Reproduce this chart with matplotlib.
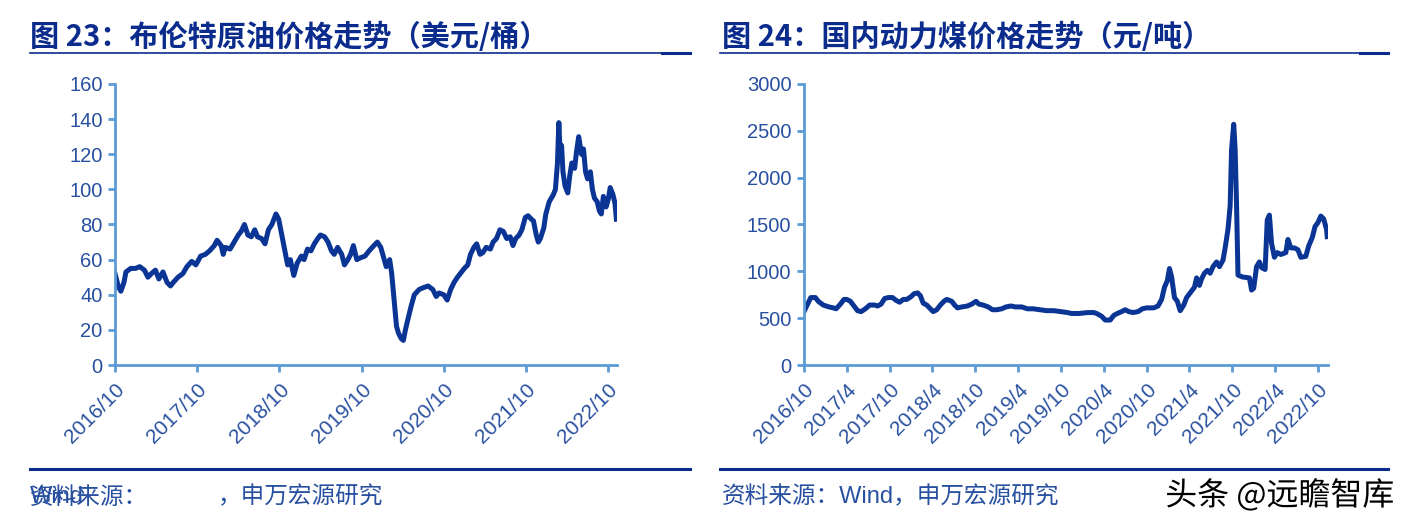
import matplotlib
matplotlib.use("Agg")
import matplotlib.pyplot as plt
import matplotlib.patheffects as pe
from matplotlib.lines import Line2D

plt.rcParams['font.family'] = ['Liberation Sans', 'Noto Sans CJK SC', 'DejaVu Sans']

# months since 2016/10
brent_month = [0, 0.46, 0.85, 1.3, 1.6, 2.3, 3.0, 3.6, 4.3, 4.8, 5.3, 5.9, 6.4, 7.0, 7.6, 8.1, 8.5, 9.2,
               9.9, 10.5, 11.2, 11.8, 12.5, 13.2, 13.8, 14.5, 14.9, 15.5, 15.8, 16.1, 16.8, 17.4, 18.0,
               18.4, 18.9, 19.4, 19.9, 20.4, 20.8, 21.4, 21.9, 22.4, 22.9, 23.5, 23.9, 24.3, 24.8, 25.2,
               25.6, 26.1, 26.6, 27.2, 27.6, 28.1, 28.6, 29.1, 29.6, 30.0, 30.6, 31.1, 31.6, 32.0, 32.5,
               33.1, 33.5, 34.0, 34.4, 34.8, 35.3, 35.8, 36.5, 37.1, 37.8, 38.3, 38.8, 39.3, 39.6, 40.1,
               40.4, 40.8, 41.1, 41.4, 41.8, 42.1, 42.4, 42.7, 43.2, 43.7, 44.4, 45.0, 45.7, 46.4, 46.9,
               47.3, 48.0, 48.5, 49.0, 49.5, 50.0, 50.4, 51.0, 51.5, 51.9, 52.4, 52.8, 53.3, 53.7, 54.2,
               54.8, 55.2, 55.7, 56.2, 56.7, 57.2, 57.7, 58.1, 58.5, 59.0, 59.4, 59.9, 60.3, 60.8, 61.1,
               61.5, 61.8, 62.1, 62.6, 62.9, 63.4, 64.0, 64.3, 64.6, 64.8, 65.0, 65.2, 65.4, 65.7, 66.1,
               66.4, 66.7, 67.1, 67.4, 67.7, 68.1, 68.4, 68.7, 69.0, 69.4, 69.7, 70.0, 70.4, 70.7, 71.0,
               71.3, 71.7, 72.0, 72.3, 72.7, 73.0, 73.2]
brent_price = [52, 45, 42, 47, 53, 55, 55, 56, 54, 50, 52, 54, 49, 53, 47, 45, 47, 50,
               52, 56, 59, 57, 62, 63, 65, 68, 71, 68, 63, 67, 66, 70, 74,
               76, 80, 74, 73, 77, 73, 72, 69, 77, 80, 86, 83, 75, 65, 57,
               60, 51, 58, 62, 60, 66, 65, 69, 72, 74, 73, 70, 65, 63, 67,
               63, 57, 60, 63, 68, 60, 61, 62, 65, 68, 70, 67, 60, 56, 60,
               52, 35, 22, 18, 15, 14, 20, 25, 33, 40, 43, 44, 45, 43, 39,
               41, 40, 37, 43, 47, 50, 52, 55, 57, 63, 67, 69, 63, 64, 67,
               66, 70, 72, 77, 76, 72, 73, 68, 72, 74, 77, 84, 85, 83, 82,
               74, 70, 72, 78, 86, 93, 97, 100, 115, 138, 120, 125, 110, 102, 98,
               108, 115, 112, 122, 130, 120, 123, 110, 106, 110, 100, 95, 93, 88, 86,
               96, 90, 94, 101, 97, 92, 83]

coal_month = [0, 0.95, 1.6, 2.0, 2.7, 3.5, 4.1, 4.5, 5.1, 5.6, 6.0, 6.5, 7.0, 7.5, 8.0, 8.6, 9.2, 9.9,
              10.3, 10.8, 11.3, 11.8, 12.4, 12.9, 13.4, 13.9, 14.4, 15.0, 15.4, 15.9, 16.3, 16.7, 17.2,
              17.7, 18.1, 18.6, 19.1, 19.6, 20.0, 20.7, 21.1, 21.5, 22.1, 22.9, 23.5, 24.1, 24.5, 25.1,
              25.8, 26.4, 27.0, 27.7, 28.3, 29.0, 29.6, 30.5, 31.3, 32.1, 33.1, 34.0, 35.0, 35.9, 36.9,
              37.5, 38.5, 39.1, 39.8, 40.6, 41.0, 41.7, 42.2, 42.9, 43.4, 43.9, 44.5, 45.0, 45.5, 46.1,
              46.8, 47.4, 48.0, 49.0, 49.6, 50.1, 50.5, 50.9, 51.2, 51.5, 51.9, 52.3, 52.7, 53.2, 53.6,
              54.1, 54.7, 55.0, 55.4, 55.7, 56.1, 56.5, 56.9, 57.3, 57.8, 58.2, 58.7, 59.0, 59.4, 59.7,
              59.9, 60.2, 60.4, 60.6, 60.8, 61.4, 62.4, 62.7, 63.0, 63.4, 63.8, 64.1, 64.6, 64.9, 65.2,
              65.5, 65.9, 66.3, 66.8, 67.5, 67.8, 68.2, 68.7, 69.2, 69.6, 70.3, 70.7, 71.2, 71.6, 72.0,
              72.4, 72.8, 73.2, 73.3]
coal_price = [570, 720, 720, 680, 640, 620, 610, 600, 650, 700, 700, 680, 630, 580, 570, 600, 640, 640,
              630, 650, 710, 720, 720, 690, 670, 700, 700, 730, 760, 770, 740, 660, 640,
              600, 570, 590, 640, 680, 700, 680, 640, 610, 620, 630, 650, 680, 650, 640,
              620, 590, 590, 600, 620, 630, 620, 620, 600, 600, 590, 580, 580, 570, 560,
              550, 550, 555, 560, 560, 550, 520, 480, 480, 530, 550, 570, 590, 570, 560,
              570, 600, 610, 610, 630, 700, 830, 900, 1030, 940, 720, 680, 580, 640, 720,
              770, 830, 930, 850, 920, 980, 1010, 980, 1050, 1100, 1050, 1120, 1250, 1450, 1700,
              2300, 2570, 2300, 1700, 960, 940, 930, 800, 820, 1050, 1100, 1040, 1020, 1550, 1600,
              1300, 1150, 1200, 1180, 1200, 1340, 1250, 1250, 1230, 1150, 1160, 1270, 1360, 1480, 1520,
              1590, 1560, 1450, 1370]

brent_ticks = [0, 12, 24, 36, 48, 60, 72]
brent_labels = ['2016/10', '2017/10', '2018/10', '2019/10', '2020/10', '2021/10', '2022/10']
coal_ticks = [0, 6, 12, 18, 24, 30, 36, 42, 48, 54, 60, 66, 72]
coal_labels = ['2016/10', '2017/4', '2017/10', '2018/4', '2018/10', '2019/4', '2019/10',
               '2020/4', '2020/10', '2021/4', '2021/10', '2022/4', '2022/10']

LINE = '#0a3594'
AXIS = '#5b9bd5'
TXT = '#2850a0'
DARK = '#0b2c8c'

fig = plt.figure(figsize=(14.13, 5.23), dpi=100)


def style_axes(ax, ticks, labels, ymax, ystep):
    for s in ['top', 'right']:
        ax.spines[s].set_visible(False)
    for s in ['left', 'bottom']:
        ax.spines[s].set_color(AXIS)
        ax.spines[s].set_linewidth(2)
    ax.set_ylim(0, ymax)
    ax.set_yticks(range(0, ymax + 1, ystep))
    ax.set_xticks(ticks)
    ax.set_xticklabels(labels, rotation=45, ha='right', rotation_mode='anchor')
    ax.tick_params(axis='both', colors=AXIS, width=2, length=5, labelcolor=TXT)
    ax.tick_params(axis='y', labelsize=14.5, pad=4)
    ax.tick_params(axis='x', labelsize=15, pad=6)


ax1 = fig.add_axes([0.0814, 0.3021, 0.3553, 0.5373])
ax1.plot(brent_month, brent_price, color=LINE, lw=3.6, solid_joinstyle='round')
ax1.set_xlim(0, 73.3)
style_axes(ax1, brent_ticks, brent_labels, 160, 20)

ax2 = fig.add_axes([0.569, 0.3021, 0.3708, 0.5373])
ax2.plot(coal_month, coal_price, color=LINE, lw=3.6, solid_joinstyle='round')
ax2.set_xlim(0, 73.4)
style_axes(ax2, coal_ticks, coal_labels, 3000, 500)

cjk = ['Noto Sans CJK SC', 'DejaVu Sans']
mixed = ['Liberation Sans', 'Noto Sans CJK SC', 'DejaVu Sans']

# titles and rules
fig.text(0.0212, 0.929, '图 23：布伦特原油价格走势（美元/桶）', fontsize=21, fontweight='bold',
         color=DARK, va='center', family=cjk)
fig.text(0.511, 0.929, '图 24：国内动力煤价格走势（元/吨）', fontsize=21, fontweight='bold',
         color=DARK, va='center', family=cjk)

for x0, x1 in [(0.0212, 0.4883), (0.5096, 0.9823)]:
    fig.add_artist(Line2D([x0, x1], [0.8987, 0.8987], color=DARK, lw=1.2))
    fig.add_artist(Line2D([x1 - 0.02, x1], [0.8987, 0.8987], color=DARK, lw=2.2))
    fig.add_artist(Line2D([x0, x1], [0.1033, 0.1033], color=DARK, lw=2.2))

# sources (left one has "Wind" printed over the first characters, as in the original)
fig.text(0.0212, 0.0497, '资料来源：', fontsize=17, color=TXT, va='center', family=cjk)
fig.text(0.0212, 0.0497, 'Wind', fontsize=17, color=TXT, va='center', family=mixed)
fig.text(0.1545, 0.0497, '，申万宏源研究', fontsize=17, color=TXT, va='center', family=cjk)
fig.text(0.511, 0.0497, '资料来源：Wind，申万宏源研究', fontsize=17, color=TXT, va='center',
         family=mixed)

fig.text(0.987, 0.052, '头条 @远瞻智库', fontsize=23, color='black', va='center', ha='right',
         family=cjk, path_effects=[pe.withStroke(linewidth=3, foreground='white')])

fig.savefig('out.png', dpi=100)
